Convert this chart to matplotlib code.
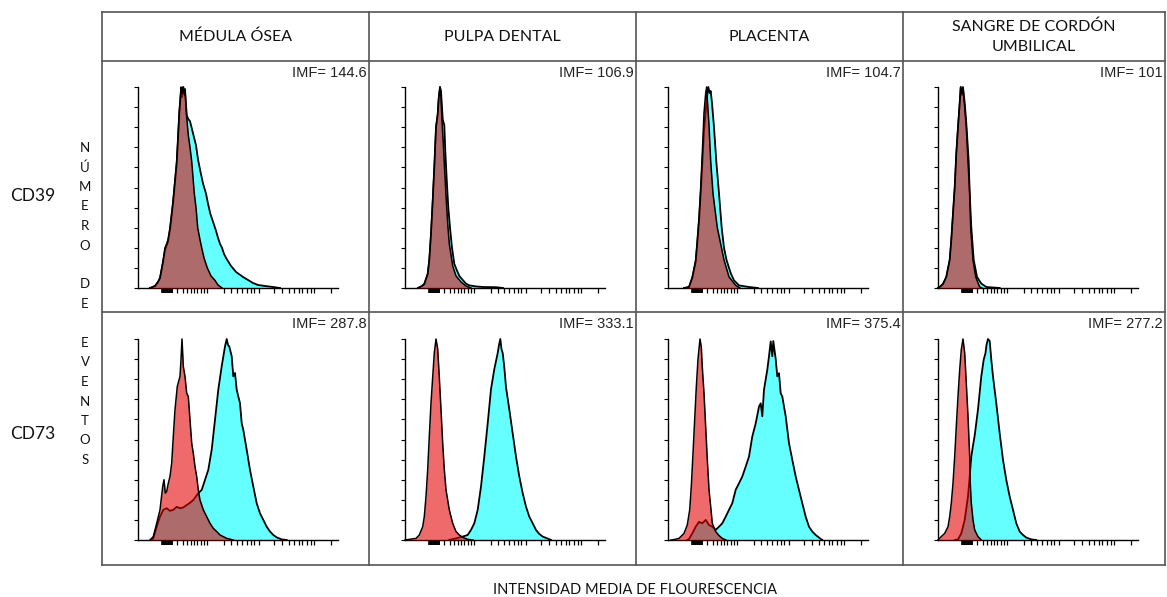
import numpy as np
import matplotlib
matplotlib.use("Agg")
import matplotlib.pyplot as plt
from matplotlib.lines import Line2D

# ──────────────────────────────────────────────
# Datos (canal relativo 0-200, % de eventos 0-100)
# ──────────────────────────────────────────────
COLUMNS = ["MÉDULA ÓSEA", "PULPA DENTAL", "PLACENTA", "SANGRE DE CORDÓN\nUMBILICAL"]
ROWS = ["CD39", "CD73"]
IMF_LABELS = [["IMF= 144.6", "IMF= 106.9", "IMF= 104.7", "IMF= 101"],
              ["IMF= 287.8", "IMF= 333.1", "IMF= 375.4", "IMF= 277.2"]]
Y_LABEL = "NÚMERO DE EVENTOS"
X_LABEL = "INTENSIDAD MEDIA DE FLOURESCENCIA"

# CD39 - control de isotipo (rojo) y marcador (cian)
MO_CD39_ISO = [(12, 0), (17, 1), (20, 3), (22, 5), (25, 13), (27, 20), (28.7, 22), (30, 24),
               (32, 30), (35, 43), (38.7, 63), (40, 75), (41.3, 88), (42.5, 96), (43, 100),
               (44, 97), (45.5, 100), (46.5, 96), (47, 98), (48.7, 85), (50.3, 76), (52, 70),
               (53.7, 63), (55, 55), (56.3, 47), (58, 40), (59.7, 30), (62, 24), (63.7, 20),
               (66, 15), (69.3, 10), (73, 6), (77, 3.8), (80, 1.5), (84, 0)]
MO_CD39_MARK = [(12, 0), (17, 1), (20, 3), (22, 5), (25, 13), (27, 19), (30, 23), (32, 29),
                (35, 42), (38.7, 62), (41.3, 87), (43, 98), (44, 95), (45, 100), (46, 97),
                (47, 99), (48.7, 86), (50.3, 84), (52, 83), (55, 77), (58, 71), (60, 64),
                (62, 59), (65, 52), (68, 47), (70, 42), (72.3, 37), (75, 33), (78, 28.5),
                (80, 25), (82, 22), (84, 20), (86, 17), (88, 15), (93, 11), (98, 8),
                (105, 5.5), (110, 4), (115, 2.5), (120, 1.5), (127, 1), (135, 0.5), (142, 0)]
PD_CD39_ISO = [(13, 0), (17, 1), (19.3, 2), (22.7, 7), (24.3, 14), (26, 27), (27.7, 44),
               (29.3, 60), (31, 80), (32.7, 87), (33.7, 95), (35, 100), (36, 95), (37, 83),
               (38.3, 72), (39.3, 62), (41, 46), (42.7, 32), (44.3, 22), (47.7, 11), (51, 6),
               (56, 3), (61, 1), (66, 0)]
PD_CD39_MARK = [(13, 0), (17, 1), (19.3, 2), (22.7, 7), (24.3, 14), (26, 27), (27.7, 43),
                (29.3, 60), (31, 80), (32.7, 86), (33.7, 94), (35, 100), (36, 98), (37.7, 84),
                (39.3, 81), (40.3, 68), (41.7, 54), (43.3, 40), (45, 30), (47, 20), (49.3, 12),
                (51.7, 9), (54.3, 6), (57.7, 4), (61, 2.2), (64.3, 1.3), (71, 0.8), (77.7, 0.5),
                (91, 0.4), (98, 0)]
PL_CD39_ISO = [(16, 0), (21, 0.5), (24.3, 5.5), (27.7, 14), (29.3, 24), (31, 35), (32.7, 50),
               (34.3, 67), (36, 87), (37.7, 97), (38.7, 100), (39.3, 94), (41, 81), (42.7, 63),
               (45, 47), (49.3, 30), (56, 14), (61, 5.5), (67.7, 1.3), (72, 0)]
PL_CD39_MARK = [(16, 0), (21, 0.5), (24.3, 5), (27.7, 13), (29.3, 22), (31, 33), (32.7, 47),
                (34.3, 62), (36, 78), (37.7, 88), (39, 95), (40.3, 100), (41.7, 97), (42.7, 98),
                (44, 92), (46, 80), (48.3, 63), (51, 47), (53.7, 30), (56, 20), (58.5, 14),
                (61, 10), (63, 7), (66, 3.8), (71, 1.3), (81, 0.5), (90, 0)]
SCU_CD39_ISO = [(0, 0), (1.7, 0.5), (5, 2), (8.3, 5.5), (11.7, 14), (13.3, 24), (15, 37),
                (16.7, 50), (18.3, 67), (20, 80), (21.7, 92), (22.7, 100), (24, 97), (25, 99),
                (26.7, 90), (28.3, 80), (30, 63), (31.7, 47), (32.7, 30), (35, 14), (37.7, 5.5),
                (41.7, 0.5), (44, 0)]
SCU_CD39_MARK = [(0, 0), (1.7, 0.5), (5, 2), (8.3, 5.5), (11.7, 14), (13.3, 24), (15, 37),
                 (16.7, 50), (18.3, 67), (20, 80), (21.7, 92), (22.7, 100), (24, 96), (25, 100),
                 (26.7, 92), (28.3, 82), (30.7, 63), (31.7, 47), (33.3, 30), (35.7, 14),
                 (39, 5.5), (43.3, 2.2), (48.3, 0.5), (61.7, 0)]

# CD73
MO_CD73_ISO = [(12, 0), (15.3, 1.7), (18.7, 8.3), (22, 15), (24.7, 26.6), (26, 30), (27.3, 23.3),
               (28.7, 24.1), (30.3, 28.2), (32, 31.6), (33.7, 38.2), (35.3, 51.5), (37, 64.8),
               (39.3, 76.4), (42, 81.4), (43, 89.7), (44, 100), (45.3, 86.4), (47, 81.4),
               (48.7, 73), (50.3, 71.4), (52, 59.8), (53.7, 48.2), (55.3, 43.2), (57, 36.5),
               (58.7, 31.6), (60.3, 24.9), (62, 19.9), (65.3, 15), (68.7, 11.6), (72, 8.3),
               (75.3, 5.8), (78.7, 4.2), (82, 2.5), (88.7, 0.8), (95.3, 0)]
MO_CD73_MARK = [(13.7, 0), (15.3, 0.8), (18.7, 6.6), (22, 11.6), (25.3, 15), (28.7, 15.8),
                (32, 14.5), (35.3, 15), (38.7, 16.5), (42, 15.8), (45.3, 16.2), (48.7, 17.4),
                (52, 18.5), (55.3, 19.9), (60.3, 23.3), (63.7, 24.9), (67, 29.9), (70.3, 34.9),
                (73.7, 44.9), (77, 59.8), (80.3, 74.8), (83.7, 86.4), (87, 96.3), (88.7, 100),
                (90, 97), (91.3, 96.3), (93.7, 91.4), (95.3, 81.4), (97, 83.1), (98.7, 74.8),
                (100.3, 71.4), (102, 68.1), (103.7, 58.1), (105.3, 54.8), (108.7, 44.9),
                (112, 34.9), (115.3, 26.6), (118.7, 18.3), (122, 13.3), (125.3, 10), (128.7, 6.6),
                (132, 4.2), (135.3, 2.5), (138.7, 1.3), (143.7, 0.3), (148.7, 0)]
PD_CD73_ISO = [(0, 0), (4.3, 0.3), (11, 0.8), (14.3, 2.5), (17.7, 6.6), (19.3, 11.6), (21, 21.6),
               (22.7, 35), (24.3, 51.5), (26, 68), (27.7, 81), (29.3, 93), (31, 100), (32.7, 95),
               (34.3, 81), (36, 65), (37.7, 48), (39.3, 35), (41, 25), (44.3, 15), (47.7, 8.3),
               (51, 4.2), (54.3, 2.5), (57.7, 1.3), (62.7, 0.3), (68, 0)]
PD_CD73_MARK = [(44, 0), (51, 0.8), (57.7, 1.7), (62.7, 2.5), (66, 5), (69.3, 8.3), (72.7, 15),
                (76, 26.6), (79.3, 41.5), (82.7, 58), (86, 75), (89.3, 85), (92.7, 93), (94, 97),
                (95.3, 100), (96.5, 95), (97.7, 93), (99.3, 86), (101, 76), (104.3, 65),
                (107.7, 53), (111, 41.5), (114.3, 31.6), (117.7, 23.3), (121, 16.6),
                (124.3, 11.6), (127.7, 8.3), (131, 5), (134.3, 3), (137.7, 1.7), (142.7, 0.7),
                (146, 0)]
PL_CD73_ISO = [(3, 0), (6, 0.2), (11, 0.8), (16, 3.3), (19.3, 7.5), (21.7, 15), (23.3, 26.6),
               (25, 43), (26.7, 60), (28.3, 76), (30, 90), (31, 95), (32, 100), (33.3, 96),
               (34.3, 86), (36, 73), (37.7, 56), (39.3, 40), (41, 25), (42.7, 16.6), (44.3, 8.3),
               (47.7, 4.2), (51, 2.2), (54.3, 0.8), (58, 0)]
PL_CD73_MARK = [(19, 0), (21, 0.5), (24.3, 3.3), (27.7, 6.6), (31, 9), (34.3, 8.3), (37.7, 10),
                (41, 7.5), (44.3, 6.6), (47.7, 5), (51, 6.6), (54.3, 8.3), (57.7, 11.6), (61, 15),
                (64.3, 18.3), (67.7, 25), (71, 28.2), (74.3, 31.6), (77.7, 36.5), (81, 41.5),
                (84.3, 51.5), (87.7, 58), (91, 66.4), (92.7, 68), (94.3, 61.5), (96, 74.8),
                (99.3, 84.7), (101, 91.4), (102.7, 98.8), (104.3, 91.4), (105.3, 99),
                (107.7, 90), (109.3, 81.4), (111, 83), (112.7, 73), (114.3, 71.4), (117.7, 61.5),
                (121, 48.2), (124.3, 39.9), (127.7, 31.6), (131, 24.9), (134.3, 18.3),
                (137.7, 11.6), (141, 6.6), (144.3, 4.2), (147.7, 2.5), (151, 1.2), (154.3, 0)]
SCU_CD73_ISO = [(0, 0), (3.3, 1.7), (6.7, 3.3), (10, 6.6), (11.7, 11.6), (13.3, 18.3), (15, 28.2),
                (16.7, 41.5), (18.3, 56.5), (20, 71.4), (21.7, 84.7), (23.3, 94.7), (25, 100),
                (26.7, 93), (28.3, 78), (30, 61.5), (31.7, 41.5), (32.3, 28), (33.3, 18.3),
                (35, 10), (36.7, 5), (40, 1.7), (43.3, 0)]
SCU_CD73_MARK = [(17, 0), (20, 0.3), (23.3, 3.3), (26.7, 10), (30, 21.6), (31.7, 31.6),
                 (33.3, 41.5), (35, 47), (36.7, 52), (40, 65), (43.3, 81.4), (45.7, 89.7),
                 (47.5, 93), (48.5, 97), (50, 100), (51.7, 99), (53.3, 89.7), (55, 81.4),
                 (58.3, 68), (61.7, 53), (65, 39.9), (68.3, 29.9), (71.7, 21.6), (75, 15),
                 (78.3, 8.3), (81.7, 4.2), (85, 2.5), (88.3, 1.2), (93.3, 0.3), (98.3, 0)]

PANELS = [[(MO_CD39_ISO, MO_CD39_MARK), (PD_CD39_ISO, PD_CD39_MARK),
           (PL_CD39_ISO, PL_CD39_MARK), (SCU_CD39_ISO, SCU_CD39_MARK)],
          [(MO_CD73_ISO, MO_CD73_MARK), (PD_CD73_ISO, PD_CD73_MARK),
           (PL_CD73_ISO, PL_CD73_MARK), (SCU_CD73_ISO, SCU_CD73_MARK)]]

# marcas del eje x (escala del citómetro)
XTICKS_DENSE = list(np.arange(24, 35.1, 0.8))
XTICKS = [39, 45, 49, 53, 56, 59, 63, 66, 69,
          86, 93, 99, 104, 109, 113, 116, 121, 136,
          144, 151, 156, 161, 164, 169, 173, 176, 193]

# ──────────────────────────────────────────────
# Maquetación (px)
# ──────────────────────────────────────────────
W, H = 1167, 597
COL_X = [102, 369, 636, 903, 1165]
ROW_Y = [12, 61, 312, 565]
AX_OFFSET = [36, 36, 32, 35]
AX_W, AX_H = 200, 201

CYAN = "#66ffff"
RED = "#e40000"

fig = plt.figure(figsize=(W / 100, H / 100), dpi=100)


def fx(x):
    return x / W


def fy(y):
    return 1 - y / H


def hline(y, x0, x1):
    fig.add_artist(Line2D([fx(x0), fx(x1)], [fy(y), fy(y)], color="#555555", lw=1.2))


def vline(x, y0, y1):
    fig.add_artist(Line2D([fx(x), fx(x)], [fy(y0), fy(y1)], color="#555555", lw=1.2))


# cuadrícula de la tabla
for y in ROW_Y:
    hline(y, COL_X[0], COL_X[-1])
for x in COL_X:
    vline(x, ROW_Y[0], ROW_Y[-1])

hdr_font = ["Lato", "DejaVu Sans"]

for j, name in enumerate(COLUMNS):
    cx = (COL_X[j] + COL_X[j + 1]) / 2
    fig.text(fx(cx), fy(37), name, ha="center", va="center", fontsize=11.5,
             family=hdr_font, linespacing=1.55, color="#111111")

for i, lab in enumerate(ROWS):
    cy = [196, 434][i]
    fig.text(fx(10), fy(cy), lab, ha="left", va="center", fontsize=12.5,
             family=hdr_font, color="#111111")

for k, ch in enumerate(Y_LABEL):
    if ch != " ":
        fig.text(fx(85), fy(148 + k * 19.5), ch, ha="center", va="center",
                 fontsize=9.5, family=hdr_font, color="#111111")

fig.text(fx(635), fy(590), X_LABEL, ha="center", va="center", fontsize=10.5,
         family=hdr_font, color="#111111")

# histogramas
for i in range(2):
    bottom = ROW_Y[i + 2] - 24 - i
    for j in range(4):
        left = COL_X[j] + AX_OFFSET[j]
        ax = fig.add_axes([fx(left), 1 - bottom / H, AX_W / W, AX_H / H])
        ax.patch.set_alpha(0)
        iso, mark = PANELS[i][j]
        xm, ym = np.array(mark).T
        xi, yi = np.array(iso).T
        ax.fill_between(xm, ym, color=CYAN, lw=0, zorder=1)
        ax.plot(xm, ym, color="black", lw=1.3, zorder=2, clip_on=False)
        ax.fill_between(xi, yi, color=RED, alpha=0.58, lw=0, zorder=3)
        ax.plot(xi, yi, color="black", lw=1.1, zorder=4, clip_on=False)

        ax.set_xlim(0, AX_W)
        ax.set_ylim(0, 100)
        for s in ("top", "right"):
            ax.spines[s].set_visible(False)
        for s in ("left", "bottom"):
            ax.spines[s].set_linewidth(1.0)
            ax.spines[s].set_color("black")
        ax.set_yticks(range(0, 101, 10))
        ax.set_xticks(XTICKS)
        ax.set_xticks(XTICKS_DENSE, minor=True)
        ax.tick_params(axis="y", direction="out", length=3, width=0.8, labelleft=False)
        ax.tick_params(axis="x", which="major", direction="out", length=3.5, width=0.9,
                       labelbottom=False)
        ax.tick_params(axis="x", which="minor", direction="out", length=3.5, width=1.2)

        fig.text(fx(COL_X[j + 1] - 2), fy(ROW_Y[i + 1] + 12), IMF_LABELS[i][j],
                 ha="right", va="center", fontsize=10.5, family="Liberation Sans",
                 color="#222222")

fig.savefig("out.png", dpi=100)
